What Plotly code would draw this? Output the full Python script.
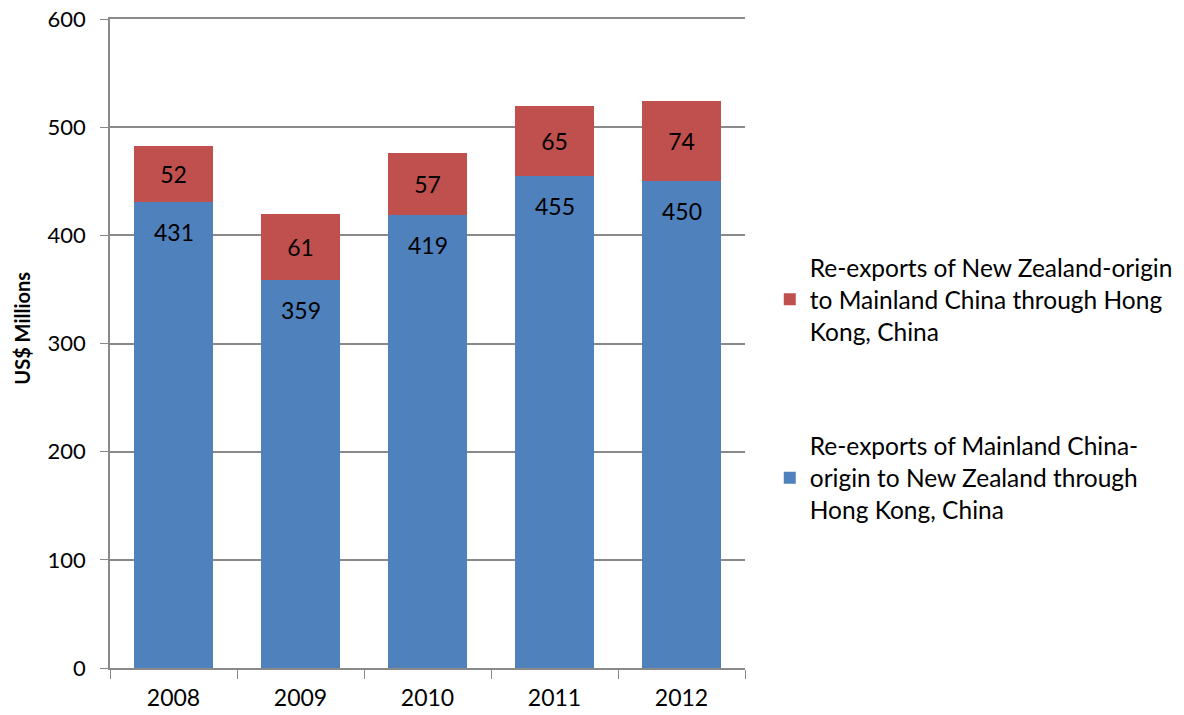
import plotly.graph_objects as go

years = ["2008", "2009", "2010", "2011", "2012"]
mainland_origin = [431, 359, 419, 455, 450]
nz_origin = [52, 61, 57, 65, 74]
name_nz = "Re-exports of New Zealand-origin<br>to Mainland China through Hong<br>Kong, China"
name_mc = "Re-exports of Mainland China-<br>origin to New Zealand through<br>Hong Kong, China"
y_title = "US$ Millions"

FONT = "Lato"
BLUE = "#4F81BD"
RED = "#C0504D"
GRID = "#898989"

fig = go.Figure()
fig.add_trace(go.Bar(
    x=years, y=mainland_origin, name=name_mc, marker_color=BLUE,
    marker_line_width=0, legendgroup="a", legendrank=2,
    hoverinfo="skip",
))
fig.add_trace(go.Bar(
    x=years, y=nz_origin, name=name_nz, marker_color=RED,
    marker_line_width=0, legendgroup="b", legendrank=1,
    text=[str(v) for v in nz_origin], textposition="inside",
    insidetextanchor="middle",
    textfont=dict(family=FONT, size=23, color="black"),
    hoverinfo="skip",
))

for i, v in enumerate(mainland_origin):
    fig.add_annotation(x=i, y=v, text=str(v), showarrow=False,
                       yanchor="top", yshift=-14,
                       font=dict(family=FONT, size=23, color="black"))

fig.add_annotation(xref="paper", yref="paper", x=-0.139, y=0.524,
                   text="<b>" + y_title + "</b>", textangle=-90,
                   showarrow=False, xanchor="center", yanchor="middle",
                   font=dict(family=FONT, size=20, color="black"))

fig.update_layout(
    barmode="stack",
    bargap=0.38,
    width=1184, height=715,
    margin=dict(l=102, r=447, t=11, b=55, autoexpand=False),
    plot_bgcolor="white", paper_bgcolor="white",
    font=dict(family=FONT, size=22, color="black"),
    showlegend=True,
    legend=dict(
        traceorder="grouped", tracegroupgap=80,
        x=1.039, xanchor="left", y=0.43, yanchor="middle",
        font=dict(family=FONT, size=24.5, color="black"),
        itemwidth=30,
    ),
    xaxis=dict(
        type="category",
        showline=True, linecolor=GRID, linewidth=1.5, mirror=True,
        ticks="outside", tickson="boundaries", ticklen=9, tickcolor=GRID,
        tickfont=dict(family=FONT, size=23, color="black"),
        ticklabelstandoff=9, tickangle=0,
    ),
    yaxis=dict(
        range=[0, 600], dtick=100,
        showline=True, linecolor=GRID, linewidth=1.5,
        showgrid=True, gridcolor=GRID, gridwidth=1.5,
        ticks="outside", ticklen=8, tickcolor=GRID,
        tickfont=dict(family=FONT, size=22, color="black"),
        ticklabelstandoff=10, ticklabeloverflow="allow",
        zeroline=False,
    ),
)

fig.write_html("out.html")
